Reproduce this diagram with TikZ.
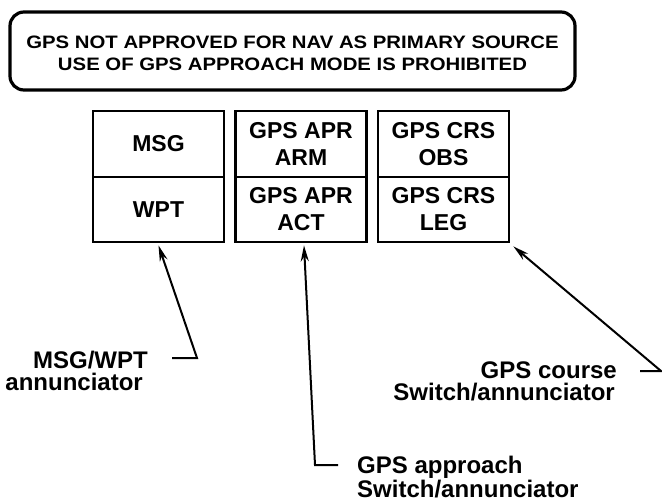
\documentclass[tikz,border=0pt]{standalone}
\usepackage{fontspec}
\usepackage{graphicx}
\setmainfont{Liberation Sans}
\usetikzlibrary{arrows.meta}
\begin{document}
\begin{tikzpicture}[x=1pt,y=-1pt,
  banner/.style={draw,line width=3.2pt,rounded corners=14pt,minimum width=565pt,minimum height=78pt,inner sep=0pt},
  bannertext/.style={font=\fontsize{18}{22}\selectfont\bfseries,align=center,inner sep=0pt},
  cell/.style={draw,line width=2.8pt,minimum width=131pt,inner sep=0pt,font=\fontsize{23}{27}\selectfont\bfseries,align=center},
  upcell/.style={cell,minimum height=66pt},
  lowcell/.style={cell,minimum height=65pt},
  lbl/.style={font=\fontsize{24}{24}\selectfont\bfseries,inner sep=0pt},
  ptr/.style={line width=2pt,-{Stealth[length=16pt,width=8pt]}}
]
\useasboundingbox (0,0) rectangle (662,503);

% banner
\node[banner] (ban) at (292.5,51) {};
\node[bannertext] (bantxt) at (292.5,53)
  {\scalebox{1.13}[1]{GPS NOT APPROVED FOR NAV AS PRIMARY SOURCE}\\
   \scalebox{1.13}[1]{USE OF GPS APPROACH MODE IS PROHIBITED}};

% switch / annunciator boxes
\node[upcell]  (b1u) at (158.5,144) {MSG};
\node[lowcell] (b1l) at (158.5,209.5) {WPT};
\node[upcell]  (b2u) at (301,144) {GPS APR\\ARM};
\node[lowcell] (b2l) at (301,209.5) {GPS APR\\ACT};
\node[upcell]  (b3u) at (443.5,144) {GPS CRS\\OBS};
\node[lowcell] (b3l) at (443.5,209.5) {GPS CRS\\LEG};

% labels
\node[lbl,anchor=base east] (l1a) at (148,368) {MSG/WPT};
\node[lbl,anchor=base east] (l1b) at (143,390) {annunciator};
\node[lbl,anchor=base west] (l2a) at (357,473) {GPS approach};
\node[lbl,anchor=base west] (l2b) at (357,497) {Switch/annunciator};
\node[lbl,anchor=base east] (l3a) at (617,378) {GPS course};
\node[lbl,anchor=base east] (l3b) at (615,400) {Switch/annunciator};

% leader coordinates
\coordinate (t1) at (172,358);
\coordinate (k1) at (197,358);
\coordinate (t2) at (338,465);
\coordinate (k2) at (315,465);
\coordinate (t3) at (640,371);
\coordinate (k3) at (661,371);

\draw[ptr] (t1) -- (k1) -- ([yshift=-2pt]b1l.south);
\draw[ptr] (t2) -- (k2) -- ([xshift=3pt,yshift=-2pt]b2l.south);
\draw[ptr] (t3) -- (k3) -- ([xshift=3pt,yshift=-3pt]b3l.south east);
\end{tikzpicture}
\end{document}
